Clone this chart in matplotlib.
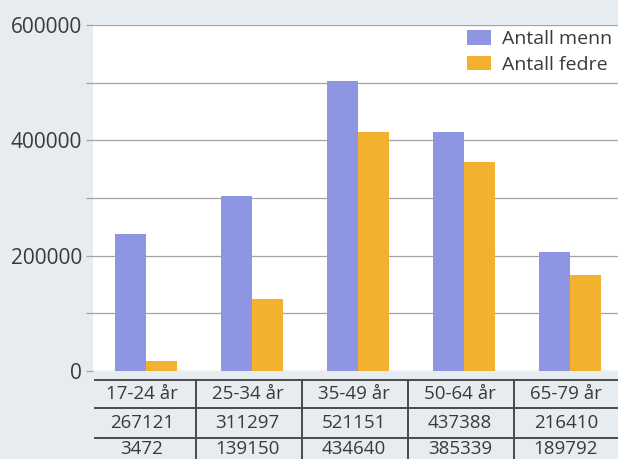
import numpy as np
import matplotlib
matplotlib.use("Agg")
import matplotlib.pyplot as plt
from matplotlib.lines import Line2D
from matplotlib.ticker import MultipleLocator

# ---------------------------------------------------------------
# Data (bar heights, table text as printed)
# ---------------------------------------------------------------
categories = ["17-24 år", "25-34 år", "35-49 år", "50-64 år", "65-79 år"]
menn_bars = [238000, 303000, 503000, 414000, 207000]
fedre_bars = [17000, 124000, 414000, 362000, 167000]
menn_table = ["267121", "311297", "521151", "437388", "216410"]
fedre_table = ["3472", "139150", "434640", "385339", "189792"]
series_labels = ["Antall menn", "Antall fedre"]
y_ticks = [0, 200000, 400000, 600000]

MENN_COLOR = "#8e95e2"
FEDRE_COLOR = "#f2b12e"
BG = "#e6ecf0"
TEXT = "#3a3a3a"
GRID = "#a4a4a4"

W, H, DPI = 618, 459, 100
fig = plt.figure(figsize=(W / DPI, H / DPI), dpi=DPI, facecolor=BG)
ax = fig.add_axes([93 / W, (H - 371) / H, 1 - 93 / W, (371 - 25) / H])
ax.set_facecolor("white")

x = np.arange(len(categories))
bw = 0.29
ax.bar(x - bw / 2, menn_bars, bw, color=MENN_COLOR, label=series_labels[0], zorder=3)
ax.bar(x + bw / 2, fedre_bars, bw, color=FEDRE_COLOR, label=series_labels[1], zorder=3)

ax.set_xlim(-0.5, (W - 146) / 106)
ax.set_ylim(0, 600000)
ax.set_xticks([])
ax.yaxis.set_major_locator(MultipleLocator(200000))
ax.yaxis.set_minor_locator(MultipleLocator(100000))
ax.set_yticks(y_ticks)
ax.set_yticklabels([str(v) for v in y_ticks])
ax.grid(axis="y", which="both", color=GRID, lw=0.9, zorder=1)
ax.tick_params(axis="y", which="both", length=5, width=0.9, color=GRID,
               labelsize=15, labelcolor=TEXT, pad=3)
for lab in ax.get_yticklabels():
    lab.set_fontfamily(["Open Sans", "DejaVu Sans"])
for s in ax.spines.values():
    s.set_visible(False)

leg = ax.legend(loc="upper left", bbox_to_anchor=(467 / W, (H - 30) / H),
                bbox_transform=fig.transFigure, frameon=False,
                borderpad=0, borderaxespad=0, handlelength=1.25,
                handleheight=0.78, handletextpad=0.55, labelspacing=0.4,
                prop={"family": ["Open Sans", "DejaVu Sans"], "size": 14})
for t in leg.get_texts():
    t.set_color(TEXT)

# ---------------------------------------------------------------
# Data table under the chart
# ---------------------------------------------------------------
trans = matplotlib.transforms.blended_transform_factory(ax.transData, fig.transFigure)
row_lines = [380, 408, 438]
row_centers = [394, 423, 449]
line_kw = dict(color="#4a4a4a", lw=1.4)
for yl in row_lines:
    fig.add_artist(Line2D([95 / W, 1], [(H - yl) / H] * 2, transform=fig.transFigure, **line_kw))
for i in range(len(categories) - 1):
    fig.add_artist(Line2D([i + 0.47, i + 0.47], [(H - 380) / H, 0], transform=trans, **line_kw))

table_font = ["Open Sans", "DejaVu Sans"]
for row, yc in zip([categories, menn_table, fedre_table], row_centers):
    for i, txt in enumerate(row):
        fig.text(i - 0.04, (H - yc) / H, txt, transform=trans, ha="center", va="center",
                 fontsize=13.5, color=TEXT, family=table_font)

fig.savefig("out.png", dpi=DPI, facecolor=BG)
